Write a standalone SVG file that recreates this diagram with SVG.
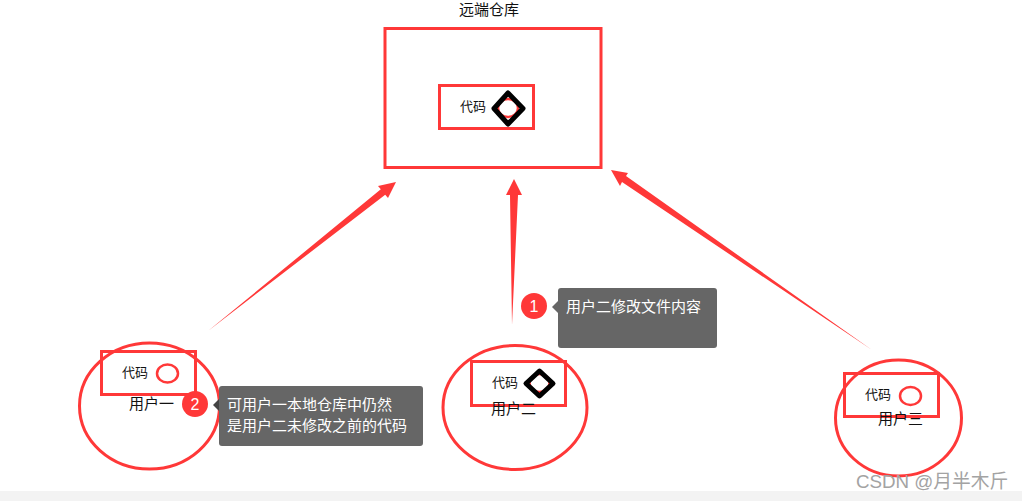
<svg xmlns="http://www.w3.org/2000/svg" width="1022" height="501" viewBox="0 0 1022 501">
<style>
text{font-family:"Liberation Sans","Noto Sans CJK SC",sans-serif;fill:#111}
.label{font-size:15px}
.code{font-size:13px}
.red{fill:none;stroke:#ff3838;stroke-width:3}
.thin{fill:none;stroke:#ff3838;stroke-width:2.5}
.dia{fill:none;stroke:#000;stroke-width:5;stroke-linejoin:round}
.arrow{fill:#ff3838}
.tip{fill:#666}
.tip-text{font-size:15px;fill:#fff}
.badge{fill:#ff3838}
.num{font-size:16px;fill:#fff;text-anchor:middle}
</style>
<rect width="1022" height="501" fill="#fff"/>
<rect x="0" y="491" width="1022" height="10" fill="#f3f3f3"/>
<g id="connectors">
<polygon class="arrow" points="208,331 380.800,189.300 378,186 396,182 388,198 385.200,194.700"/>
<polygon class="arrow" points="512,325 510,195 506,195 514,179 522,195 518,195"/>
<polygon class="arrow" points="872,350 622,182 620,186 611,170 628,173 626,176"/>
</g>
<g id="remote">
<text class="label" x="459" y="15">远端仓库</text>
<rect class="red" x="385" y="28.500" width="216" height="139"/>
<rect class="red" x="439.500" y="85.500" width="94" height="43"/>
<text class="code" x="460" y="111">代码</text>
<ellipse class="thin" cx="508" cy="108" rx="10" ry="9"/>
<polygon class="dia" points="508,93 523,108.500 508,124 494,108.500"/>
</g>
<g id="user1">
<ellipse class="red" cx="149.500" cy="406" rx="70" ry="63"/>
<rect class="red" x="101.500" y="351.500" width="94" height="43"/>
<text class="code" x="122" y="377">代码</text>
<ellipse class="thin" cx="167.500" cy="373.500" rx="10.500" ry="9"/>
<text class="label" x="129" y="409">用户一</text>
</g>
<g id="user2">
<ellipse class="red" cx="515" cy="407.500" rx="72" ry="62"/>
<rect class="red" x="471.500" y="361.500" width="94" height="44"/>
<text class="code" x="492" y="387">代码</text>
<ellipse class="thin" cx="539.500" cy="383" rx="10" ry="9"/>
<polygon class="dia" points="539.500,371 553,383.500 539.500,396 526,383.500"/>
<text class="label" x="491" y="414">用户二</text>
</g>
<g id="user3">
<ellipse class="red" cx="898.500" cy="418" rx="63" ry="58"/>
<rect class="red" x="844.500" y="373.500" width="94" height="43"/>
<text class="code" x="865" y="399">代码</text>
<ellipse class="thin" cx="910.500" cy="396" rx="10.500" ry="9"/>
<text class="label" x="878" y="424">用户三</text>
</g>
<g id="note1">
<circle class="badge" cx="534" cy="306" r="13"/>
<text class="num" x="534" y="311.500">1</text>
<polygon class="tip" points="552,307 558,301 558,313"/>
<rect class="tip" x="558" y="288" width="159" height="60" rx="3"/>
<text class="tip-text" x="566" y="312">用户二修改文件内容</text>
</g>
<g id="note2">
<circle class="badge" cx="195" cy="404" r="13"/>
<text class="num" x="195" y="409.500">2</text>
<polygon class="tip" points="213,405 219,399 219,411" style="fill:#444"/>
<rect class="tip" x="219" y="386" width="204" height="60" rx="3"/>
<text class="tip-text" x="227" y="410">可用户一本地仓库中仍然</text>
<text class="tip-text" x="227" y="431">是用户二未修改之前的代码</text>
</g>
<text x="856" y="488" font-size="18.750" style="fill:#a3a3a3">CSDN @月半木斤</text>
</svg>
